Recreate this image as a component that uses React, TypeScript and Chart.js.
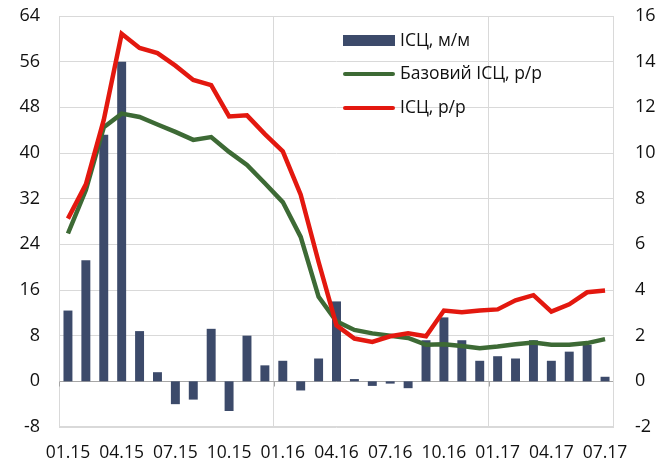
import React, { useEffect, useRef } from "react";
import { Chart, registerables } from "chart.js";
Chart.register(...registerables);

const labels = [
  "01.15","02.15","03.15","04.15","05.15","06.15","07.15","08.15","09.15","10.15","11.15","12.15",
  "01.16","02.16","03.16","04.16","05.16","06.16","07.16","08.16","09.16","10.16","11.16","12.16",
  "01.17","02.17","03.17","04.17","05.17","06.17","07.17",
];
const cpiMoM = [3.1,5.3,10.8,14.0,2.2,0.4,-1.0,-0.8,2.3,-1.3,2.0,0.7,0.9,-0.4,1.0,3.5,0.1,-0.2,-0.1,-0.3,1.8,2.8,1.8,0.9,1.1,1.0,1.8,0.9,1.3,1.6,0.2];
const coreYoY = [25.9,33.5,44.5,46.9,46.3,45.0,43.7,42.3,42.8,40.2,37.9,34.7,31.4,25.3,14.8,10.5,9.0,8.4,8.0,7.6,6.4,6.5,6.2,5.8,6.1,6.5,6.8,6.4,6.4,6.7,7.4];
const cpiYoY = [28.5,34.5,45.8,60.9,58.4,57.5,55.3,52.8,51.9,46.4,46.6,43.3,40.3,32.7,20.9,9.8,7.5,6.9,7.9,8.4,7.9,12.4,12.1,12.4,12.6,14.2,15.1,12.2,13.5,15.6,15.9];
const seriesNames = ["ІСЦ, м/м", "Базовий ІСЦ, р/р", "ІСЦ, р/р"];

const BAR = "#3C4A6A";
const GREEN = "#3D6A35";
const RED = "#E3180F";
const GRID = "#D9D9D9";
const TEXT = "#111111";
const FONT = "'Open Sans', sans-serif";

const framePlugin = {
  id: "frame",
  beforeDatasetsDraw(chart: any) {
    const { ctx, chartArea: a, scales } = chart;
    ctx.save();
    ctx.strokeStyle = GRID;
    ctx.lineWidth = 1;
    ctx.strokeRect(a.left + 0.5, a.top + 0.5, a.right - a.left - 1, a.bottom - a.top - 1);
    const y0 = Math.round(scales.y.getPixelForValue(0)) + 0.5;
    const x = scales.x;
    const half = (x.getPixelForValue(1) - x.getPixelForValue(0)) / 2;
    ctx.strokeStyle = "#A6A6A6";
    [0, 12, 24].forEach((i) => {
      const px = Math.round(x.getPixelForValue(i) - half) + 0.5;
      ctx.beginPath();
      ctx.moveTo(px, y0);
      ctx.lineTo(px, y0 + 5);
      ctx.stroke();
    });
    ctx.restore();
  },
};

const legendPlugin = {
  id: "insideLegend",
  afterDraw(chart: any) {
    const { ctx, chartArea: a } = chart;
    const x0 = a.left + 284;
    const sw = 52;
    const rows = [a.top + 25, a.top + 58, a.top + 92];
    ctx.save();
    ctx.font = `17.5px ${FONT}`;
    ctx.textBaseline = "middle";
    ctx.fillStyle = BAR;
    ctx.fillRect(x0, rows[0] - 6, sw, 11);
    ctx.lineCap = "round";
    ctx.lineWidth = 4;
    ctx.strokeStyle = GREEN;
    ctx.beginPath();
    ctx.moveTo(x0 + 2, rows[1]);
    ctx.lineTo(x0 + sw - 2, rows[1]);
    ctx.stroke();
    ctx.strokeStyle = RED;
    ctx.beginPath();
    ctx.moveTo(x0 + 2, rows[2]);
    ctx.lineTo(x0 + sw - 2, rows[2]);
    ctx.stroke();
    ctx.fillStyle = TEXT;
    seriesNames.forEach((n, i) => ctx.fillText(n, x0 + sw + 5, rows[i]));
    ctx.restore();
  },
};

export default function App() {
  const ref = useRef<HTMLCanvasElement>(null);
  useEffect(() => {
    const chart = new Chart(ref.current!, {
      type: "bar",
      data: {
        labels,
        datasets: [
          {
            type: "bar",
            label: seriesNames[0],
            data: cpiMoM,
            backgroundColor: BAR,
            yAxisID: "y2",
            categoryPercentage: 1,
            barPercentage: 0.5,
            order: 2,
          },
          {
            type: "line",
            label: seriesNames[1],
            data: coreYoY,
            borderColor: GREEN,
            backgroundColor: GREEN,
            borderWidth: 4.5,
            pointRadius: 0,
            tension: 0,
            yAxisID: "y",
            order: 1,
          },
          {
            type: "line",
            label: seriesNames[2],
            data: cpiYoY,
            borderColor: RED,
            backgroundColor: RED,
            borderWidth: 4.5,
            pointRadius: 0,
            tension: 0,
            yAxisID: "y",
            order: 0,
          },
        ] as any,
      },
      options: {
        animation: false,
        responsive: true,
        maintainAspectRatio: false,
        layout: { padding: { top: 16, left: 0, right: 0, bottom: 0 } },
        plugins: { legend: { display: false }, tooltip: { enabled: false } },
        scales: {
          x: {
            offset: true,
            border: { display: false },
            grid: {
              offset: true,
              drawTicks: false,
              color: (c: any) => (c.index % 12 === 0 ? GRID : "rgba(0,0,0,0)"),
            },
            ticks: {
              autoSkip: false,
              maxRotation: 0,
              padding: 16,
              color: TEXT,
              font: { family: FONT, size: 17.5 },
              callback: (_v: any, i: number) => (i % 3 === 0 ? labels[i] : ""),
            },
            afterFit: (s: any) => { s.height = 38; s.paddingLeft = 0; s.paddingRight = 0; },
          },
          y: {
            position: "left",
            min: -8,
            max: 64,
            border: { display: false },
            grid: {
              drawTicks: false,
              color: (c: any) => (c.tick && c.tick.value === 0 ? "#A6A6A6" : GRID),
            },
            ticks: { stepSize: 8, padding: 19, color: TEXT, font: { family: FONT, size: 18 } },
            afterFit: (s: any) => { s.width = 59; s.paddingTop = 0; s.paddingBottom = 0; },
          },
          y2: {
            position: "right",
            min: -2,
            max: 16,
            border: { display: false },
            grid: { display: false, drawTicks: false },
            ticks: { stepSize: 2, padding: 21, color: TEXT, font: { family: FONT, size: 18 } },
            afterFit: (s: any) => { s.width = 49; s.paddingTop = 0; s.paddingBottom = 0; },
          },
        },
      } as any,
      plugins: [framePlugin, legendPlugin],
    });
    return () => chart.destroy();
  }, []);
  return (
    <div style={{ position: "fixed", left: 0, top: 0, width: 663, height: 465, background: "#fff" }}>
      <canvas ref={ref} />
    </div>
  );
}
